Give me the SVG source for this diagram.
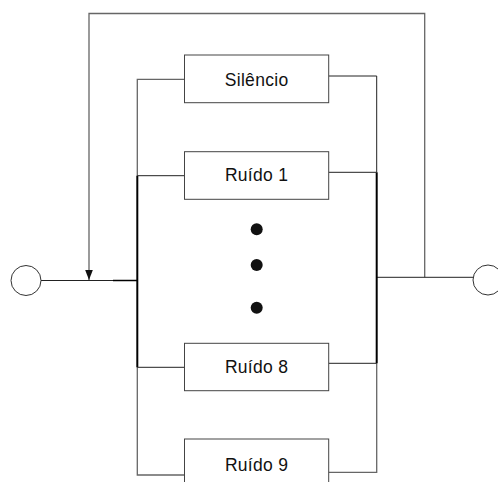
<svg xmlns="http://www.w3.org/2000/svg" width="498" height="482" viewBox="0 0 498 482">
<defs>
<style>
.box{fill:#fff;stroke:#444;stroke-width:1}
.lbl{font-family:"Liberation Sans",Arial,sans-serif;font-size:17.5px;fill:#111;text-anchor:middle;letter-spacing:0.3px}
.ln{fill:none;stroke:#222;stroke-width:1}
.gl{fill:none;stroke:#666;stroke-width:1.3}
.thick{fill:none;stroke:#000;stroke-width:2}
.port{fill:#fff;stroke:#333;stroke-width:1}
.dot{fill:#111}
</style>
<marker id="ah" markerWidth="11" markerHeight="8" refX="10.5" refY="4" orient="auto" markerUnits="userSpaceOnUse">
<path d="M0,0 L10.5,4 L0,8 Z" fill="#111"/>
</marker>
</defs>
<g id="connectors">
<polyline class="gl" points="424.7,277.3 424.7,13.5 89,13.5 89,280" marker-end="url(#ah)"/>
<line class="ln" x1="41" y1="280.5" x2="137" y2="280.5"/>
<line class="thick" x1="113" y1="280.5" x2="137" y2="280.5" style="stroke-width:1.5"/>
<line class="ln" x1="377" y1="277.3" x2="473" y2="277.3"/>
<polyline class="gl" points="184.5,79.3 137.3,79.3 137.3,175.7"/>
<polyline class="gl" points="137.3,367.3 137.3,475 184.5,475"/>
<polyline class="ln" points="328.7,76 376.7,76 376.7,172.3"/>
<polyline class="gl" points="376.7,363.3 376.7,472.3 328.7,472.3"/>
<line class="thick" x1="137.3" y1="175.7" x2="137.3" y2="367.3"/>
<line class="thick" x1="376.7" y1="172.3" x2="376.7" y2="363.3"/>
<line class="ln" x1="137.3" y1="175.7" x2="184.5" y2="175.7"/>
<line class="ln" x1="328.7" y1="172.3" x2="376.7" y2="172.3"/>
<line class="ln" x1="137.3" y1="367.3" x2="184.5" y2="367.3"/>
<line class="ln" x1="328.7" y1="363.3" x2="376.7" y2="363.3"/>
</g>
<g id="in"><circle class="port" cx="26" cy="280.5" r="15"/></g>
<g id="out"><circle class="port" cx="488" cy="280" r="15"/></g>
<g id="silencio"><rect class="box" x="184.5" y="55" width="144.2" height="47.7"/><text class="lbl" x="256.6" y="86">Silêncio</text></g>
<g id="ruido1"><rect class="box" x="184.5" y="151.7" width="144.2" height="47.6"/><text class="lbl" x="256.6" y="181">Ruído 1</text></g>
<g id="dots"><circle class="dot" cx="256.7" cy="229.3" r="6"/><circle class="dot" cx="256.7" cy="265" r="6"/><circle class="dot" cx="256.7" cy="307.7" r="6"/></g>
<g id="ruido8"><rect class="box" x="184.5" y="343.3" width="144.2" height="47.4"/><text class="lbl" x="256.6" y="373">Ruído 8</text></g>
<g id="ruido9"><rect class="box" x="184.5" y="439" width="144.2" height="47.5"/><text class="lbl" x="256.6" y="471.3">Ruído 9</text></g>
</svg>
